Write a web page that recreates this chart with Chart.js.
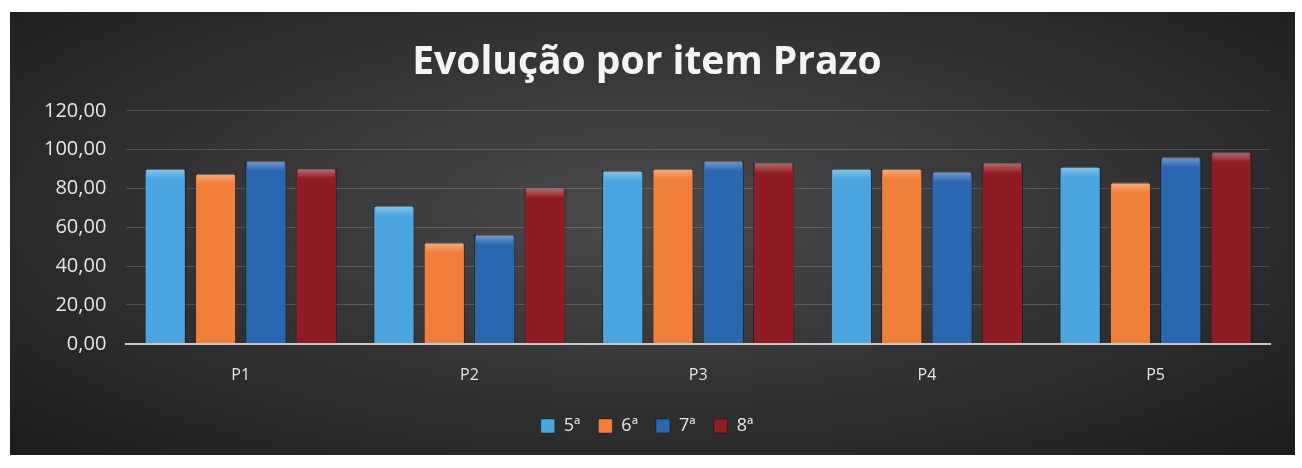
<!DOCTYPE html>
<html>
<head>
<meta charset="utf-8">
<script src="https://cdn.jsdelivr.net/npm/chart.js@4"></script>
<style>
  html, body { margin: 0; padding: 0; background: #ffffff; }
  #wrap {
    position: absolute;
    left: 10px;
    top: 12px;
    width: 1285px;
    height: 443px;
    background: radial-gradient(ellipse at 50% 45%, #4a4a4c 0%, #363638 45%, #232324 85%, #1c1c1d 100%);
  }
</style>
</head>
<body>
<div id="wrap"><canvas id="prazoChart"></canvas></div>
<script>
// Data
const categories = ["P1", "P2", "P3", "P4", "P5"];
const serieNames = ["5ª", "6ª", "7ª", "8ª"];
const serie5 = [90, 71, 89, 90, 91];
const serie6 = [87.5, 52, 90, 90, 83];
const serie7 = [94, 56, 94, 88.5, 96];
const serie8 = [90, 80, 93, 93, 98.5];
const yMax = 120;
const yStep = 20;

const barColors = ["#4ba6e0", "#f07f3c", "#2b66b0", "#8e1c22"];
const textColor = "#e6e6e6";

// simple bevel highlight on the top of each bar
const bevelPlugin = {
  id: "bevel",
  afterDatasetsDraw(chart) {
    const ctx = chart.ctx;
    chart.data.datasets.forEach((ds, i) => {
      chart.getDatasetMeta(i).data.forEach((bar) => {
        const w = bar.width;
        const x = bar.x - w / 2;
        const y = bar.y;
        const g = ctx.createLinearGradient(0, y, 0, y + 10);
        g.addColorStop(0, "rgba(255,255,255,0.35)");
        g.addColorStop(1, "rgba(255,255,255,0)");
        ctx.save();
        ctx.fillStyle = g;
        ctx.fillRect(x + 2, y, w - 4, 10);
        ctx.restore();
      });
    });
  },
};

const ctx = document.getElementById("prazoChart").getContext("2d");
new Chart(ctx, {
  type: "bar",
  data: {
    labels: categories,
    datasets: [serie5, serie6, serie7, serie8].map((vals, i) => ({
      label: serieNames[i],
      data: vals,
      backgroundColor: barColors[i],
      borderColor: "rgba(0,0,0,0.35)",
      borderWidth: 1,
      barPercentage: 0.82,
      categoryPercentage: 0.88,
    })),
  },
  options: {
    responsive: true,
    maintainAspectRatio: false,
    animation: false,
    layout: { padding: { left: 14, right: 25, top: 27, bottom: 10 } },
    scales: {
      y: {
        min: 0,
        max: yMax,
        ticks: {
          stepSize: yStep,
          color: textColor,
          font: { family: "Open Sans", size: 20 },
          padding: 20,
          callback: (v) => v.toFixed(2).replace(".", ","),
        },
        grid: { color: "rgba(255,255,255,0.16)", drawTicks: false },
        border: { display: false },
      },
      x: {
        ticks: {
          color: textColor,
          font: { family: "Open Sans", size: 16 },
          padding: 14,
        },
        grid: { display: false },
        border: { display: true, color: "#c8c8c8", width: 2 },
      },
    },
    plugins: {
      title: {
        display: true,
        text: "Evolução por item Prazo",
        color: "#f4f4f4",
        font: { family: "Open Sans", size: 39, weight: "bold" },
        padding: { top: 0, bottom: 25 },
      },
      legend: {
        position: "bottom",
        labels: {
          color: textColor,
          font: { family: "Open Sans", size: 18 },
          boxWidth: 14,
          boxHeight: 14,
          padding: 18,
        },
      },
      tooltip: { enabled: false },
    },
  },
  plugins: [bevelPlugin],
});
</script>
</body>
</html>
